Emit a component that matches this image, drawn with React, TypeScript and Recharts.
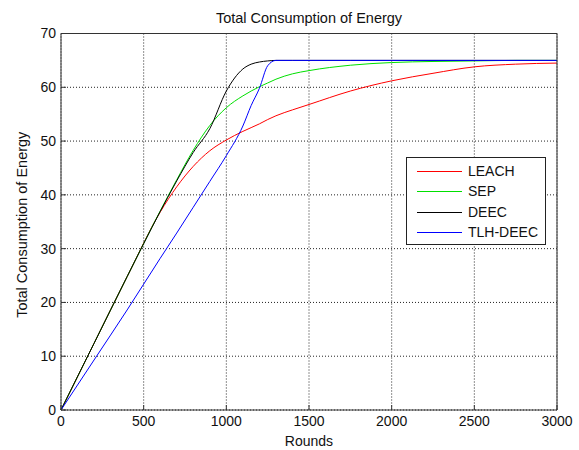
import React from 'react';
import {
  LineChart,
  Line,
  XAxis,
  YAxis,
  CartesianGrid,
  Label,
} from 'recharts';

// rounds at which the energy totals were sampled
const ROUNDS = [
  0, 200, 400, 600, 700, 800, 900, 1000, 1100, 1150, 1200, 1250, 1300,
  1400, 1500, 1750, 2000, 2250, 2500, 2750, 3000,
];

const LEACH = [
  0, 12.4, 24.8, 36.8, 41.5, 45.3, 48.2, 50.2, 51.8, 52.5, 53.2, 54.0, 54.7,
  55.8, 56.8, 59.3, 61.2, 62.6, 63.8, 64.3, 64.5,
];
const SEP = [
  0, 12.4, 24.8, 37.0, 42.8, 48.3, 52.9, 56.2, 58.4, 59.3, 60.1, 60.8, 61.5,
  62.5, 63.1, 64.1, 64.6, 64.8, 64.9, 65.0, 65.0,
];
const DEEC = [
  0, 12.4, 24.8, 36.9, 42.6, 47.9, 52.3, 59.3, 63.4, 64.3, 64.7, 64.9, 65.0,
  65.0, 65.0, 65.0, 65.0, 65.0, 65.0, 65.0, 65.0,
];
const TLH_DEEC = [
  0, 9.3, 18.6, 28.2, 32.9, 37.7, 42.5, 47.3, 52.8, 56.6, 59.8, 64.0, 65.0,
  65.0, 65.0, 65.0, 65.0, 65.0, 65.0, 65.0, 65.0,
];

const X_TICKS = [0, 500, 1000, 1500, 2000, 2500, 3000];
const Y_TICKS = [0, 10, 20, 30, 40, 50, 60, 70];

const SERIES = [
  { key: 'leach', name: 'LEACH', color: '#ff0000' },
  { key: 'sep', name: 'SEP', color: '#00e000' },
  { key: 'deec', name: 'DEEC', color: '#000000' },
  { key: 'tlh', name: 'TLH-DEEC', color: '#0000ff' },
];

const data = ROUNDS.map((round, i) => ({
  round,
  leach: LEACH[i],
  sep: SEP[i],
  deec: DEEC[i],
  tlh: TLH_DEEC[i],
}));

const FONT = 'Arial, "Liberation Sans", Helvetica, sans-serif';
const AXIS_COLOR = '#333';
const tickStyle = { fill: '#111', fontSize: 14, fontFamily: FONT };

const YTitle = (props: any) => {
  const { viewBox } = props;
  const x = viewBox.x + 6;
  const y = viewBox.y + viewBox.height / 2 + 3;
  return (
    <text
      x={x}
      y={y}
      transform={`rotate(-90 ${x} ${y})`}
      textAnchor="middle"
      fontSize={14.5}
      fontFamily={FONT}
      fill="#111"
    >
      Total Consumption of Energy
    </text>
  );
};

const LegendBox = () => (
  <div
    style={{
      position: 'absolute',
      left: 406,
      top: 157,
      width: 138,
      height: 86,
      border: '1px solid #222',
      background: '#fff',
      fontFamily: FONT,
      fontSize: 14,
      color: '#111',
      boxSizing: 'content-box',
    }}
  >
    {SERIES.map((s, i) => (
      <div
        key={s.key}
        style={{
          position: 'absolute',
          left: 10,
          top: 4 + i * 20.3,
          height: 18,
          display: 'flex',
          alignItems: 'center',
          whiteSpace: 'nowrap',
        }}
      >
        <svg width={46} height={18} style={{ display: 'block' }}>
          <line x1={0} x2={45} y1={9.5} y2={9.5} stroke={s.color} strokeWidth={1} />
        </svg>
        <span style={{ marginLeft: 5 }}>{s.name}</span>
      </div>
    ))}
  </div>
);

export default function App() {
  return (
    <div style={{ position: 'relative', width: 579, height: 450, background: '#fff' }}>
      <style>{'body{margin:0;background:#fff}'}</style>
      <LineChart
        width={579}
        height={450}
        data={data}
        margin={{ top: 32.5, right: 21, bottom: 4, left: 21 }}
      >
        <CartesianGrid stroke="#222" strokeDasharray="1 2" />
        <XAxis
          dataKey="round"
          type="number"
          domain={[0, 3000]}
          ticks={X_TICKS}
          height={36}
          tickSize={-5}
          tickMargin={11}
          axisLine={{ stroke: AXIS_COLOR }}
          tickLine={{ stroke: AXIS_COLOR }}
          tick={tickStyle}
        >
          <Label
            value="Rounds"
            position="insideBottom"
            offset={0}
            style={{ fontSize: 14, fontFamily: FONT, fill: '#111' }}
          />
        </XAxis>
        <XAxis
          xAxisId="top"
          orientation="top"
          type="number"
          domain={[0, 3000]}
          ticks={X_TICKS}
          height={1}
          tickSize={-5}
          tick={false}
          axisLine={{ stroke: AXIS_COLOR }}
          tickLine={{ stroke: AXIS_COLOR }}
        >
          <Label
            value="Total Consumption of Energy"
            position="top"
            offset={10}
            style={{ fontSize: 14.5, fontFamily: FONT, fill: '#111' }}
          />
        </XAxis>
        <YAxis
          type="number"
          domain={[0, 70]}
          ticks={Y_TICKS}
          width={40}
          tickSize={-5}
          tickMargin={10}
          axisLine={{ stroke: AXIS_COLOR }}
          tickLine={{ stroke: AXIS_COLOR }}
          tick={tickStyle}
        >
          <Label content={YTitle} />
        </YAxis>
        <YAxis
          yAxisId="right"
          orientation="right"
          type="number"
          domain={[0, 70]}
          ticks={Y_TICKS}
          width={1}
          tickSize={-5}
          tick={false}
          axisLine={{ stroke: AXIS_COLOR }}
          tickLine={{ stroke: AXIS_COLOR }}
        />
        {SERIES.map((s) => (
          <Line
            key={s.key}
            dataKey={s.key}
            name={s.name}
            type="monotone"
            stroke={s.color}
            strokeWidth={1}
            dot={false}
            activeDot={false}
            isAnimationActive={false}
          />
        ))}
      </LineChart>
      <LegendBox />
    </div>
  );
}
